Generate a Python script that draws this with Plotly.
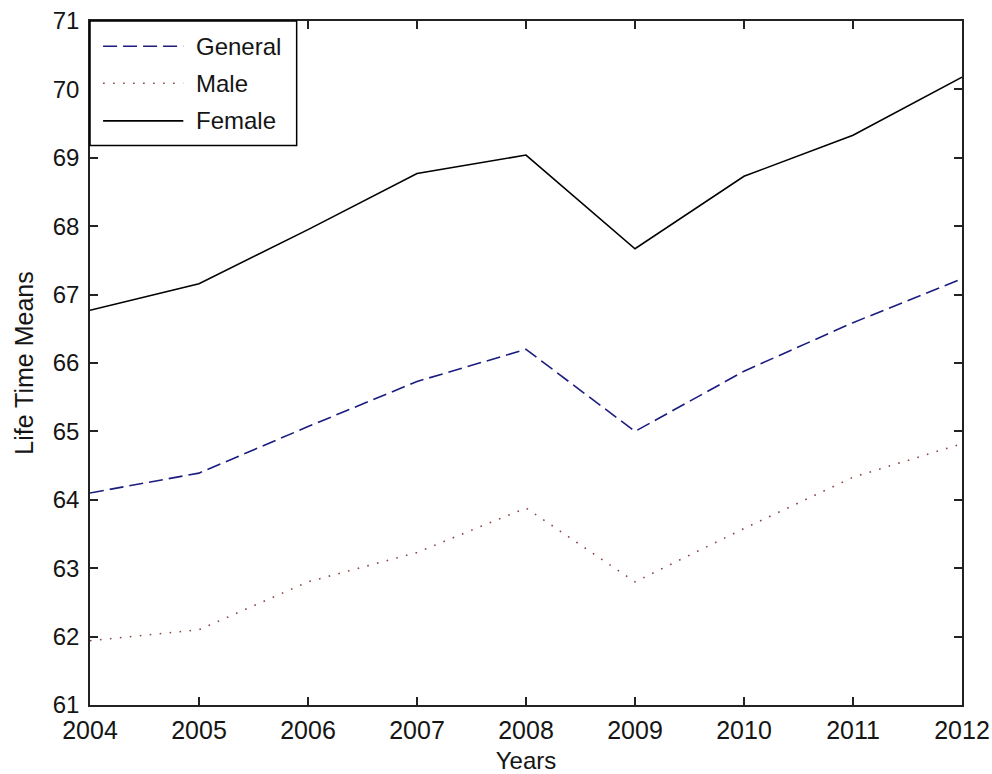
import plotly.graph_objects as go

# Life-time means by year, 2004-2012
years = [2004, 2005, 2006, 2007, 2008, 2009, 2010, 2011, 2012]
general = [64.10, 64.39, 65.07, 65.73, 66.20, 65.00, 65.88, 66.59, 67.23]
male = [61.94, 62.10, 62.80, 63.23, 63.88, 62.80, 63.58, 64.33, 64.82]
female = [66.77, 67.16, 67.95, 68.77, 69.04, 67.67, 68.73, 69.33, 70.18]

series_names = ["General", "Male", "Female"]
series_colors = ["#1c1c80", "#8a4545", "#000000"]
series_dash = ["14px,6px", "1.6px,8.4px", "solid"]

FONT = "Liberation Sans, Arial, sans-serif"
TXT = "#151515"

fig = go.Figure()
for name, vals, col, dash in zip(series_names, [general, male, female],
                                 series_colors, series_dash):
    fig.add_trace(go.Scatter(
        x=years, y=vals, mode="lines", name=name,
        line=dict(color=col, width=1.6, dash=dash),
        showlegend=False,
    ))

# Boxed legend in the upper-left corner of the axes
leg_x0, leg_x1 = 0.0, 0.237
leg_y1, leg_y0 = 1.0, 0.818
fig.add_shape(type="rect", xref="paper", yref="paper",
              x0=leg_x0, x1=leg_x1, y0=leg_y0, y1=leg_y1,
              line=dict(color="black", width=1.5), fillcolor="white", layer="above")
row_y = [0.963, 0.909, 0.854]
for name, col, dash, ry in zip(series_names, series_colors, series_dash, row_y):
    fig.add_shape(type="line", xref="paper", yref="paper",
                  x0=0.015, x1=0.107, y0=ry, y1=ry,
                  line=dict(color=col, width=1.6, dash=dash), layer="above")
    fig.add_annotation(xref="paper", yref="paper", x=0.119, y=ry,
                       text=name, showarrow=False, xanchor="left", yanchor="middle",
                       font=dict(family=FONT, size=24, color=TXT))

axis_common = dict(
    showline=True, linecolor="#222222", linewidth=1.5, mirror="ticks",
    ticks="inside", ticklen=8, tickcolor="#222222", tickwidth=1.5,
    showgrid=False, zeroline=False, automargin=False,
)

fig.update_xaxes(range=[2004, 2012], tickmode="array", tickvals=years,
                 ticktext=[str(y) for y in years], ticklabelstandoff=2,
                 tickfont=dict(family=FONT, size=25, color=TXT),
                 title=dict(text="Years", standoff=13,
                            font=dict(family=FONT, size=24, color=TXT)),
                 **axis_common)
fig.update_yaxes(range=[61, 71], dtick=1, ticklabelstandoff=4,
                 tickfont=dict(family=FONT, size=24, color=TXT),
                 title=dict(text="Life Time Means", standoff=12,
                            font=dict(family=FONT, size=25, color=TXT)),
                 **axis_common)

fig.update_layout(
    width=992, height=774,
    margin=dict(l=90, r=30, t=21, b=69),
    paper_bgcolor="white", plot_bgcolor="white",
)

fig.write_html("out.html")
